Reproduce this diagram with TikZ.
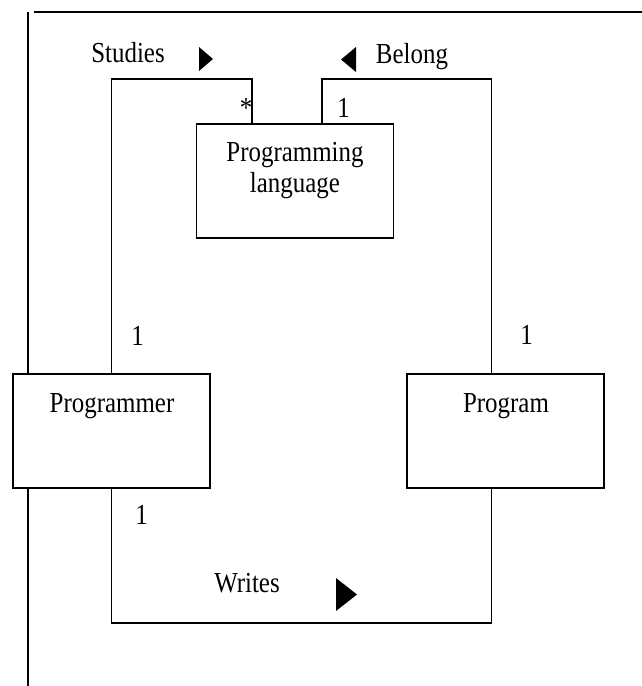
\documentclass[tikz,border=0pt]{standalone}
\usepackage{fontspec}
\setmainfont{Liberation Serif}[FakeStretch=0.86]
\usetikzlibrary{calc}
\begin{document}
\begin{tikzpicture}[x=1pt,y=-1pt,
  box/.style={draw,line width=1.3pt,rectangle,minimum width=197pt,minimum height=114pt,inner sep=0pt},
  txt/.style={font=\fontsize{29}{31}\selectfont,inner sep=0pt,anchor=base},
  link/.style={line width=1.3pt},
  frameline/.style={line width=1.8pt},
  dirmark/.style={fill=black,draw=none}]
\useasboundingbox (0,0) rectangle (642,686);

% outer frame (left and top edges)
\draw[frameline] (28,12) -- (28,374);
\draw[frameline] (28,488) -- (28,686);
\draw[frameline] (34,12) -- (642,12);

% classes
\node[box] (pl) at (295,181) {};
\node[box] (pr) at (111.5,431) {};
\node[box] (pg) at (505.5,431) {};

\node[txt] (plt1) at (295,161) {Programming};
\node[txt] (plt2) at (295,192) {language};
\node[txt] (prt) at (112,412) {Programmer};
\node[txt] (pgt) at (506,412) {Program};

% attachment points and routing levels
\coordinate (sA) at ($(pl.north west)+(56,0)$);
\coordinate (bA) at ($(pl.north west)+(126,0)$);
\coordinate (bB) at ($(pg.north west)+(85,0)$);
\coordinate (wB) at ($(pg.south west)+(85,0)$);
\coordinate (lvTop) at (0,79);
\coordinate (lvBot) at (0,623);

% associations
\draw[link] (pr.north) -- (pr.north |- lvTop) -- (sA |- lvTop) -- (sA);
\draw[link] (bA) -- (bA |- lvTop) -- (bB |- lvTop) -- (bB);
\draw[link] (pr.south) -- (pr.south |- lvBot) -- (wB |- lvBot) -- (wB);

% association names and reading directions
\node[txt] (st) at (128,62) {Studies};
\node[txt] (bt) at (412,63) {Belong};
\node[txt] (wt) at (247,592) {Writes};
\fill[dirmark] (199,47) -- (213,59) -- (199,71) -- cycle;
\fill[dirmark] (356,47) -- (341,59.5) -- (356,72) -- cycle;
\fill[dirmark] (336,578) -- (357,594.5) -- (336,611) -- cycle;

% multiplicities
\node[txt] (m1) at (246,117) {*};
\node[txt] (m2) at (343.5,117) {1};
\node[txt] (m3) at (137.5,345) {1};
\node[txt] (m4) at (526.5,344) {1};
\node[txt] (m5) at (141.5,524) {1};
\end{tikzpicture}
\end{document}
